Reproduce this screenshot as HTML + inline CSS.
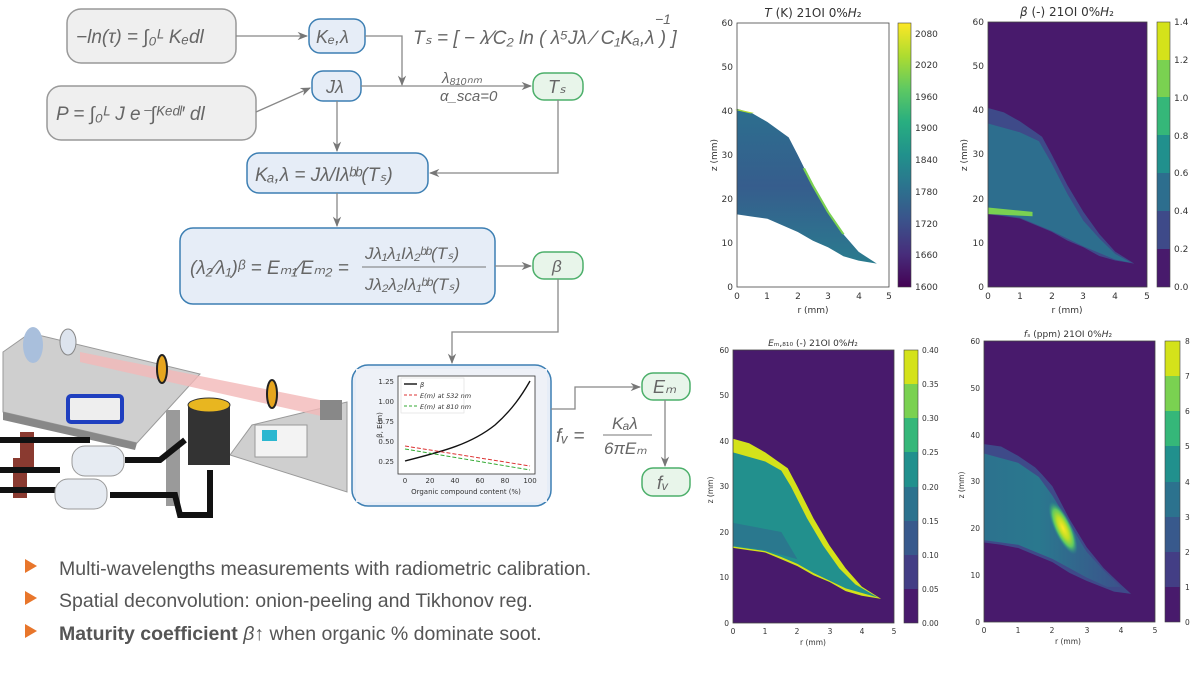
<!DOCTYPE html>
<html><head><meta charset="utf-8"><style>
html,body{margin:0;padding:0;background:#fff;width:1200px;height:675px;overflow:hidden}
svg{display:block}
.m{font-family:"Liberation Sans",sans-serif;fill:#666;font-style:italic}
.t{font-family:"DejaVu Sans","Liberation Sans",sans-serif;fill:#333}
.b{font-family:"Liberation Sans",sans-serif;fill:#555;font-size:19.5px}
</style></head><body>
<svg width="1200" height="675" viewBox="0 0 1200 675" xmlns="http://www.w3.org/2000/svg">
<defs>
<marker id="ar" viewBox="0 0 10 10" refX="9" refY="5" markerWidth="8" markerHeight="8" orient="auto"><path d="M0,1 L10,5 L0,9 L3,5 Z" fill="#777"/></marker>
<linearGradient id="vir" x1="0" y1="1" x2="0" y2="0">
<stop offset="0" stop-color="#440154"/><stop offset=".125" stop-color="#472d7b"/><stop offset=".25" stop-color="#3b528b"/><stop offset=".375" stop-color="#2c728e"/><stop offset=".5" stop-color="#21918c"/><stop offset=".625" stop-color="#28ae80"/><stop offset=".75" stop-color="#5ec962"/><stop offset=".875" stop-color="#addc30"/><stop offset="1" stop-color="#fde725"/></linearGradient>
<linearGradient id="tg" x1="0" y1="0" x2="0" y2="1"><stop offset="0" stop-color="#2a7b8e"/><stop offset=".5" stop-color="#365d8d"/><stop offset="1" stop-color="#2c6f8e"/></linearGradient>
<linearGradient id="fsg" x1="0" y1="0" x2="1" y2="0"><stop offset="0" stop-color="#2c728e"/><stop offset=".4" stop-color="#2a788e"/><stop offset="1" stop-color="#3b528b"/></linearGradient>
<radialGradient id="hot"><stop offset="0" stop-color="#fde725"/><stop offset=".4" stop-color="#bddf26"/><stop offset=".7" stop-color="#5ec962"/><stop offset="1" stop-color="#21918c" stop-opacity="0"/></radialGradient>
</defs>

<!-- ===== flow diagram ===== -->
<g stroke-width="1.5">
<rect x="67" y="9" width="169" height="54" rx="14" fill="#efefef" stroke="#999"/>
<rect x="47" y="86" width="209" height="54" rx="14" fill="#efefef" stroke="#999"/>
<rect x="309" y="19" width="56" height="34" rx="11" fill="#e6edf7" stroke="#3d7fb3"/>
<rect x="312" y="71" width="49" height="30" rx="11" fill="#e6edf7" stroke="#3d7fb3"/>
<rect x="533" y="73" width="50" height="27" rx="11" fill="#e8f5ea" stroke="#4caf6a"/>
<rect x="247" y="153" width="181" height="40" rx="12" fill="#e6edf7" stroke="#3d7fb3"/>
<rect x="180" y="228" width="315" height="76" rx="13" fill="#e6edf7" stroke="#3d7fb3"/>
<rect x="533" y="252" width="50" height="27" rx="11" fill="#e8f5ea" stroke="#4caf6a"/>
<rect x="352" y="365" width="199" height="141" rx="16" fill="#e6edf7" stroke="#3d7fb3"/>
<rect x="642" y="373" width="48" height="27" rx="11" fill="#e8f5ea" stroke="#4caf6a"/>
<rect x="642" y="468" width="48" height="28" rx="11" fill="#e8f5ea" stroke="#4caf6a"/>
</g>
<g stroke="#888" stroke-width="1.3" fill="none" marker-end="url(#ar)">
<path d="M236,36 L307,36"/>
<path d="M365,36 L402,36 L402,85"/>
<path d="M361,86 L531,86"/>
<path d="M256,112 L310,88"/>
<path d="M337,101 L337,151"/>
<path d="M558,100 L558,173 L430,173"/>
<path d="M337,193 L337,226"/>
<path d="M495,266 L531,266"/>
<path d="M558,279 L558,332 L452,332 L452,363"/>
<path d="M551,409 L575,409 L575,387 L640,387"/>
<path d="M665,400 L665,466"/>
</g>
<g class="m">
<text x="76" y="43" font-size="19">−ln(τ) = ∫₀ᴸ Kₑdl</text>
<text x="56" y="120" font-size="19">P = ∫₀ᴸ J e⁻∫ᴷᵉᵈˡ′ dl</text>
<text x="316" y="43" font-size="18">Kₑ,λ</text>
<text x="326" y="93" font-size="18">Jλ</text>
<text x="548" y="93" font-size="18">Tₛ</text>
<text x="413" y="44" font-size="19">Tₛ = [ − λ⁄C₂ ln ( λ⁵Jλ ⁄ C₁Kₐ,λ ) ]</text>
<text x="655" y="24" font-size="14">−1</text>
<text x="442" y="83" font-size="15">λ₈₁₀ₙₘ</text>
<text x="440" y="101" font-size="15">α_sca=0</text>
<text x="255" y="181" font-size="19">Kₐ,λ = Jλ/Iλᵇᵇ(Tₛ)</text>
<text x="190" y="274" font-size="19">(λ₂⁄λ₁)ᵝ = Eₘ₁⁄Eₘ₂ = </text>
<text x="365" y="259" font-size="17">Jλ₁λ₁Iλ₂ᵇᵇ(Tₛ)</text>
<line x1="362" y1="267" x2="486" y2="267" stroke="#777"/>
<text x="365" y="290" font-size="17">Jλ₂λ₂Iλ₁ᵇᵇ(Tₛ)</text>
<text x="552" y="272" font-size="17">β</text>
<text x="653" y="393" font-size="18">Eₘ</text>
<text x="657" y="489" font-size="18">fᵥ</text>
<text x="556" y="442" font-size="19">fᵥ =</text>
<text x="612" y="429" font-size="17">Kₐλ</text>
<line x1="603" y1="435" x2="652" y2="435" stroke="#777"/>
<text x="604" y="454" font-size="17">6πEₘ</text>
</g>

<!-- inner chart -->
<rect x="356" y="369" width="191" height="133" fill="#eef1f7"/>
<rect x="398" y="376" width="137" height="98" fill="#fff" stroke="#333" stroke-width=".8"/>
<g class="t" font-size="7" text-anchor="end">
<text x="394" y="384">1.25</text><text x="394" y="404">1.00</text><text x="394" y="424">0.75</text><text x="394" y="444">0.50</text><text x="394" y="464">0.25</text></g>
<g class="t" font-size="7" text-anchor="middle">
<text x="405" y="483">0</text><text x="430" y="483">20</text><text x="455" y="483">40</text><text x="480" y="483">60</text><text x="505" y="483">80</text><text x="530" y="483">100</text>
<text x="466" y="494">Organic compound content (%)</text>
<text x="0" y="0" transform="translate(382,425) rotate(-90)">β, E(m)</text></g>
<path d="M405,461 C440,452 470,445 495,425 C512,410 522,395 530,381" stroke="#111" stroke-width="1.4" fill="none"/>
<path d="M405,446 L530,466" stroke="#d33" stroke-width="1" stroke-dasharray="4,2" fill="none"/>
<path d="M405,449 L530,470" stroke="#3a3" stroke-width="1" stroke-dasharray="4,2" fill="none"/>
<rect x="401" y="378" width="63" height="35" fill="#fff" stroke="#ddd" stroke-width=".6"/>
<g class="t" font-size="6.5" font-style="italic"><line x1="404" y1="384" x2="417" y2="384" stroke="#111" stroke-width="1.4"/><text x="420" y="387">β</text>
<line x1="404" y1="395" x2="417" y2="395" stroke="#d33" stroke-dasharray="3,2"/><text x="420" y="398">E(m) at 532 nm</text>
<line x1="404" y1="406" x2="417" y2="406" stroke="#3a3" stroke-dasharray="3,2"/><text x="420" y="409">E(m) at 810 nm</text></g>

<!-- ===== setup photo (approx) ===== -->
<polygon points="3,352 30,333 200,374 137,443 3,412" fill="#cfcfcf" stroke="#999"/>
<polygon points="3,412 137,443 135,450 3,420" fill="#888"/>
<polygon points="230,455 252,425 347,402 347,492" fill="#cfcfcf" stroke="#999"/>
<polygon points="80,352 80,362 330,418 330,402" fill="#f2b8b8" opacity=".8"/>
<ellipse cx="33" cy="345" rx="10" ry="18" fill="#a9bfdc"/>
<ellipse cx="68" cy="342" rx="8" ry="13" fill="#dde4ee" stroke="#888"/>
<rect x="68" y="396" width="54" height="26" rx="3" fill="#eee" stroke="#1f3fbf" stroke-width="4"/>
<ellipse cx="162" cy="369" rx="5" ry="14" fill="#e6a51e" stroke="#222" stroke-width="2"/>
<ellipse cx="272" cy="394" rx="5" ry="14" fill="#e6a51e" stroke="#222" stroke-width="2"/>
<rect x="188" y="405" width="42" height="60" fill="#333"/>
<ellipse cx="209" cy="405" rx="21" ry="7" fill="#e8b620" stroke="#333"/>
<rect x="166" y="410" width="14" height="96" fill="#9a9a9a"/>
<rect x="255" y="425" width="52" height="32" fill="#f3f3f3" stroke="#999"/>
<rect x="262" y="430" width="15" height="11" fill="#2bb7d0"/>
<rect x="320" y="400" width="22" height="20" fill="#888"/>
<rect x="20" y="432" width="14" height="40" fill="#8a3a30"/><rect x="13" y="458" width="14" height="40" fill="#8a3a30"/>
<path d="M0,440 L90,440 M0,470 L60,470 M0,490 L60,490 M125,460 L160,460 L185,440 M110,495 L175,495 L180,515 L210,515 L210,470" stroke="#111" stroke-width="6" fill="none"/>
<rect x="72" y="446" width="52" height="30" rx="13" fill="#e6ebf2" stroke="#999"/>
<rect x="55" y="479" width="52" height="30" rx="13" fill="#e6ebf2" stroke="#999"/>

<!-- bullets -->
<g>
<polygon points="25,559 37,566 25,573" fill="#e8762b"/>
<polygon points="25,591 37,598 25,605" fill="#e8762b"/>
<polygon points="25,624 37,631 25,638" fill="#e8762b"/>
<text class="b" x="59" y="575">Multi-wavelengths measurements with radiometric calibration.</text>
<text class="b" x="59" y="607">Spatial deconvolution: onion-peeling and Tikhonov reg.</text>
<text class="b" x="59" y="640"><tspan font-weight="bold">Maturity coefficient</tspan> <tspan font-style="italic">β</tspan>↑ when organic % dominate soot.</text>
</g>

<!-- ===== Plot 1: T ===== -->
<g transform="translate(737,287) scale(30.4,-4.4)">
<path d="M0,40.5 L0.5,39.5 1,37.5 1.5,35 1.7,34 2,30 2.5,23 3,17 3.5,12 4,8 4.6,5.3 4,6 3.5,7 3,9 2.5,10.5 2,12.5 1.5,14 1,15.5 0.5,16 0,16.5 Z" fill="url(#tg)"/>
<path d="M2.2,27 L2.5,23 3,17 3.5,12" stroke="#7ad151" stroke-width=".08" fill="none"/>
<path d="M0,40.3 L0.5,39.5" stroke="#addc30" stroke-width=".15" fill="none"/>
</g>
<rect x="737" y="23" width="152" height="264" fill="none" stroke="#444" stroke-width=".8"/>
<rect x="898" y="23" width="13" height="264" fill="url(#vir)" stroke="#444" stroke-width=".6"/>
<text class="t" x="813" y="17" font-size="12" text-anchor="middle"><tspan font-style="italic">T</tspan> (K) 21OI 0%<tspan font-style="italic">H</tspan>₂</text>
<g class="t" font-size="9" text-anchor="end"><text x="733" y="290">0</text><text x="733" y="246">10</text><text x="733" y="202">20</text><text x="733" y="158">30</text><text x="733" y="114">40</text><text x="733" y="70">50</text><text x="733" y="26">60</text></g>
<g class="t" font-size="9" text-anchor="middle"><text x="737" y="299">0</text><text x="767" y="299">1</text><text x="798" y="299">2</text><text x="828" y="299">3</text><text x="859" y="299">4</text><text x="889" y="299">5</text><text x="813" y="313">r (mm)</text>
<text transform="translate(717,155) rotate(-90)">z (mm)</text></g>
<g class="t" font-size="9"><text x="915" y="37">2080</text><text x="915" y="68">2020</text><text x="915" y="100">1960</text><text x="915" y="131">1900</text><text x="915" y="163">1840</text><text x="915" y="195">1780</text><text x="915" y="227">1720</text><text x="915" y="258">1660</text><text x="915" y="290">1600</text></g>

<!-- ===== Plot 2: beta ===== -->
<rect x="988" y="22" width="159" height="265" fill="#481a6c"/>
<g transform="translate(988,287) scale(31.8,-4.42)">
<path d="M0,40.5 L0.5,39.5 1,37.5 1.5,35 1.7,34 2,30 2.5,23 3,17 3.5,12 4,8 4.6,5.3 4,6 3.5,7 3,9 2.5,10.5 2,12.5 1.5,14 1,15.5 0.5,16 0,16.5 Z" fill="#3e4a89"/>
<path d="M0,37 L1,35 1.6,33 2,28 2.5,21 3,15 3.5,11 4,7.5 4.5,5.5 4,6.2 3,9.2 2,12.7 1,15.7 0,16.7 Z" fill="#2d6e8e"/>
<path d="M0,18 L1.4,17 L1.4,16 L0,16.5 Z" fill="#7ad151"/>
</g>
<rect x="988" y="22" width="159" height="265" fill="none" stroke="#444" stroke-width=".8"/>
<g stroke="none"><rect x="1157" y="22" width="13" height="265" fill="#481a6c"/>
<rect x="1157" y="249" width="13" height="38" fill="#481a6c"/><rect x="1157" y="211" width="13" height="38" fill="#3e4a89"/><rect x="1157" y="173" width="13" height="38" fill="#2d6e8e"/><rect x="1157" y="135" width="13" height="38" fill="#21908d"/><rect x="1157" y="97" width="13" height="38" fill="#35b779"/><rect x="1157" y="60" width="13" height="37" fill="#7ad151"/><rect x="1157" y="22" width="13" height="38" fill="#d4e21a"/></g>
<rect x="1157" y="22" width="13" height="265" fill="none" stroke="#444" stroke-width=".6"/>
<text class="t" x="1067" y="16" font-size="12" text-anchor="middle"><tspan font-style="italic">β</tspan> (-) 21OI 0%<tspan font-style="italic">H</tspan>₂</text>
<g class="t" font-size="9" text-anchor="end"><text x="984" y="290">0</text><text x="984" y="246">10</text><text x="984" y="202">20</text><text x="984" y="157">30</text><text x="984" y="113">40</text><text x="984" y="69">50</text><text x="984" y="25">60</text></g>
<g class="t" font-size="9" text-anchor="middle"><text x="988" y="299">0</text><text x="1020" y="299">1</text><text x="1052" y="299">2</text><text x="1083" y="299">3</text><text x="1115" y="299">4</text><text x="1147" y="299">5</text><text x="1067" y="313">r (mm)</text>
<text transform="translate(967,155) rotate(-90)">z (mm)</text></g>
<g class="t" font-size="9"><text x="1174" y="25">1.4</text><text x="1174" y="63">1.2</text><text x="1174" y="101">1.0</text><text x="1174" y="139">0.8</text><text x="1174" y="176">0.6</text><text x="1174" y="214">0.4</text><text x="1174" y="252">0.2</text><text x="1174" y="290">0.0</text></g>

<!-- ===== Plot 3: Em ===== -->
<rect x="733" y="350" width="161" height="273" fill="#481a6c"/>
<g transform="translate(733,623) scale(32.2,-4.55)">
<path d="M0,40.5 L0.5,39.5 1,37.5 1.5,35 1.7,34 2,30 2.5,23 3,17 3.5,12 4,8 4.6,5.3 4,6 3.5,7 3,9 2.5,10.5 2,12.5 1.5,14 1,15.5 0.5,16 0,16.5 Z" fill="#d4e21a"/>
<path d="M0,37.5 L1,35.5 1.5,33.5 1.8,30 2.3,23 2.8,17 3.3,12 3.8,8.5 4.5,5.6 3.5,7.6 2.5,11 2,13 1.5,14.5 1,15.8 0,16.8 Z" fill="#22908d"/>
<path d="M0,22 L1.5,20 L2,14 L1,16 L0,17 Z" fill="#2d6e8e" opacity=".7"/>
</g>
<rect x="733" y="350" width="161" height="273" fill="none" stroke="#444" stroke-width=".8"/>
<g><rect x="904" y="350" width="14" height="273" fill="#481a6c"/>
<rect x="904" y="555" width="14" height="34" fill="#433e85"/><rect x="904" y="521" width="14" height="34" fill="#38598c"/><rect x="904" y="487" width="14" height="34" fill="#2c728e"/><rect x="904" y="452" width="14" height="35" fill="#21908d"/><rect x="904" y="418" width="14" height="34" fill="#35b779"/><rect x="904" y="384" width="14" height="34" fill="#7ad151"/><rect x="904" y="350" width="14" height="34" fill="#d4e21a"/></g>
<rect x="904" y="350" width="14" height="273" fill="none" stroke="#444" stroke-width=".6"/>
<text class="t" x="813" y="346" font-size="9" text-anchor="middle"><tspan font-style="italic">E</tspan>ₘ,₈₁₀ (-) 21OI 0%<tspan font-style="italic">H</tspan>₂</text>
<g class="t" font-size="7.5" text-anchor="end"><text x="729" y="626">0</text><text x="729" y="580">10</text><text x="729" y="535">20</text><text x="729" y="489">30</text><text x="729" y="444">40</text><text x="729" y="398">50</text><text x="729" y="353">60</text></g>
<g class="t" font-size="7.5" text-anchor="middle"><text x="733" y="634">0</text><text x="765" y="634">1</text><text x="797" y="634">2</text><text x="830" y="634">3</text><text x="862" y="634">4</text><text x="894" y="634">5</text><text x="813" y="645">r (mm)</text>
<text transform="translate(713,490) rotate(-90)">z (mm)</text></g>
<g class="t" font-size="7.5"><text x="922" y="353">0.40</text><text x="922" y="387">0.35</text><text x="922" y="421">0.30</text><text x="922" y="455">0.25</text><text x="922" y="490">0.20</text><text x="922" y="524">0.15</text><text x="922" y="558">0.10</text><text x="922" y="592">0.05</text><text x="922" y="626">0.00</text></g>

<!-- ===== Plot 4: fs ===== -->
<rect x="984" y="341" width="171" height="281" fill="#481a6c"/>
<g transform="translate(984,622) scale(34.2,-4.68)">
<path d="M0,38 L0.5,37.5 1,35.5 1.5,33 1.7,31.5 2,29 2.5,22 3,16 3.5,11.5 4,8 4.3,6 3.8,6.5 3,8.8 2.5,10.5 2,12.8 1.5,14.3 1,15.8 0.5,16.5 0,17 Z" fill="#3e4a89"/>
<path d="M0,36 L1,34 1.6,31 2,27 2.5,21 3,15 3.5,11 4,7.5 3.6,7.5 3,9.5 2.5,11.5 2,13.5 1,16.5 0,17.5 Z" fill="url(#fsg)"/>
</g>
<ellipse cx="1063" cy="528" rx="9" ry="29" transform="rotate(-25 1063 528)" fill="url(#hot)"/>
<rect x="984" y="341" width="171" height="281" fill="none" stroke="#444" stroke-width=".8"/>
<g><rect x="1165" y="341" width="15" height="281" fill="#481a6c"/>
<rect x="1165" y="552" width="15" height="35" fill="#433e85"/><rect x="1165" y="517" width="15" height="35" fill="#38598c"/><rect x="1165" y="482" width="15" height="35" fill="#2c728e"/><rect x="1165" y="446" width="15" height="36" fill="#21908d"/><rect x="1165" y="411" width="15" height="35" fill="#35b779"/><rect x="1165" y="376" width="15" height="35" fill="#7ad151"/><rect x="1165" y="341" width="15" height="35" fill="#d4e21a"/></g>
<rect x="1165" y="341" width="15" height="281" fill="none" stroke="#444" stroke-width=".6"/>
<text class="t" x="1068" y="337" font-size="9" text-anchor="middle"><tspan font-style="italic">f</tspan>ₛ (ppm) 21OI 0%<tspan font-style="italic">H</tspan>₂</text>
<g class="t" font-size="7.5" text-anchor="end"><text x="980" y="625">0</text><text x="980" y="578">10</text><text x="980" y="531">20</text><text x="980" y="484">30</text><text x="980" y="438">40</text><text x="980" y="391">50</text><text x="980" y="344">60</text></g>
<g class="t" font-size="7.5" text-anchor="middle"><text x="984" y="633">0</text><text x="1018" y="633">1</text><text x="1052" y="633">2</text><text x="1087" y="633">3</text><text x="1121" y="633">4</text><text x="1155" y="633">5</text><text x="1068" y="644">r (mm)</text>
<text transform="translate(964,485) rotate(-90)">z (mm)</text></g>
<g class="t" font-size="7.5"><text x="1185" y="344">8</text><text x="1185" y="379">7</text><text x="1185" y="414">6</text><text x="1185" y="449">5</text><text x="1185" y="485">4</text><text x="1185" y="520">3</text><text x="1185" y="555">2</text><text x="1185" y="590">1</text><text x="1185" y="625">0</text></g>
</svg>
</body></html>
